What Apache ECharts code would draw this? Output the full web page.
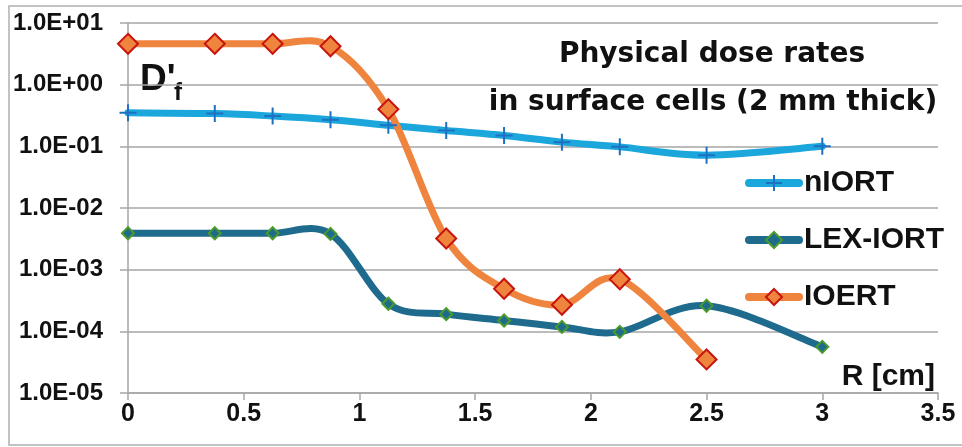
<!DOCTYPE html>
<html>
<head>
<meta charset="utf-8">
<script src="https://cdn.jsdelivr.net/npm/echarts@6/dist/echarts.min.js"></script>
<style>html,body{margin:0;padding:0;background:#fff;}#c{width:962px;height:447px;}</style>
</head>
<body>
<div id="c"></div>
<script>
const radius = [0, 0.375, 0.625, 0.875, 1.125, 1.375, 1.625, 1.875, 2.125, 2.5, 3];
const nIORT = [0.35, 0.34, 0.31, 0.27, 0.22, 0.18, 0.15, 0.117, 0.098, 0.072, 0.10];
const lexIORT = [3.9e-3, 3.9e-3, 3.9e-3, 3.8e-3, 2.8e-4, 1.9e-4, 1.5e-4, 1.18e-4, 9.8e-5, 2.6e-4, 5.6e-5];
const ioert = [4.6, 4.6, 4.6, 4.2, 0.40, 3.2e-3, 4.9e-4, 2.7e-4, 7.0e-4, 3.5e-5];
const yTickLabels = {'-5': '1.0E-05', '-4': '1.0E-04', '-3': '1.0E-03', '-2': '1.0E-02', '-1': '1.0E-01', '0': '1.0E+00', '1': '1.0E+01'};
const xTickLabels = ['0', '0.5', '1', '1.5', '2', '2.5', '3', '3.5'];
const seriesNames = ['nIORT', 'LEX-IORT', 'IOERT'];
const titleLines = ['Physical dose rates', 'in surface cells (2 mm thick)'];

const pairs = (xs, ys) => ys.map((v, i) => [xs[i], v]);
const FONT = '"Liberation Sans", Arial, sans-serif';
const TFONT = '"DejaVu Sans", sans-serif';
const lineColors = ['#1ba6dc', '#1e6b8e', '#ef843e'];
const seriesData = [pairs(radius, nIORT), pairs(radius, lexIORT), pairs(radius, ioert)];

// Spreadsheet-style smoothed curve (Catmull-Rom Bezier) through the points, in pixel space via the axes
function curveSeries(idx) {
  return {
    name: seriesNames[idx] + ' curve', type: 'custom', z: 2, silent: true,
    coordinateSystem: 'cartesian2d', data: [seriesData[idx][0]],
    renderItem: function (params, api) {
      const pts = seriesData[idx].map(p => api.coord(p));
      const n = pts.length;
      let d = 'M' + pts[0][0] + ',' + pts[0][1];
      for (let i = 0; i < n - 1; i++) {
        const p0 = pts[Math.max(i - 1, 0)], p1 = pts[i], p2 = pts[i + 1], p3 = pts[Math.min(i + 2, n - 1)];
        const c1x = p1[0] + (p2[0] - p0[0]) / 6, c1y = p1[1] + (p2[1] - p0[1]) / 6;
        const c2x = p2[0] - (p3[0] - p1[0]) / 6, c2y = p2[1] - (p3[1] - p1[1]) / 6;
        d += ' C' + c1x + ',' + c1y + ' ' + c2x + ',' + c2y + ' ' + p2[0] + ',' + p2[1];
      }
      return {type: 'path', shape: {pathData: d},
              style: {fill: 'none', stroke: lineColors[idx], lineWidth: 7, lineCap: 'round', lineJoin: 'round'}};
    }
  };
}

const markerDefs = [
  {symbol: 'path://M0,-10L0,10M-10,0L10,0', size: 17, itemStyle: {color: 'none', borderColor: '#1e70c2', borderWidth: 2}},
  {symbol: 'diamond', size: 12, itemStyle: {color: '#1e6b8e', borderColor: '#4a9a2c', borderWidth: 2}},
  {symbol: 'diamond', size: 20, itemStyle: {color: '#ef843e', borderColor: '#c8150f', borderWidth: 2}}
];

const series = [];
for (let i = 0; i < 3; i++) {
  series.push(curveSeries(i));
  series.push({
    name: seriesNames[i], type: 'line', z: 3, data: seriesData[i], color: lineColors[i],
    lineStyle: {color: lineColors[i], width: 7, opacity: 0},
    symbol: markerDefs[i].symbol, symbolSize: markerDefs[i].size, itemStyle: markerDefs[i].itemStyle
  });
}

const chart = echarts.init(document.getElementById('c'), null, {renderer: 'canvas'});
chart.setOption({
  animation: false,
  backgroundColor: '#fff',
  grid: {left: 128, right: 24, top: 23, bottom: 54, containLabel: false},
  xAxis: {
    type: 'value', min: 0, max: 3.5, interval: 0.5,
    axisLine: {show: true, lineStyle: {color: '#a6a6a6', width: 1.5}},
    axisTick: {show: true, length: 7, lineStyle: {color: '#a6a6a6', width: 1.5}},
    splitLine: {show: false},
    axisLabel: {
      margin: 9, color: '#111', fontWeight: 'bold', fontSize: 25, fontFamily: FONT,
      formatter: v => xTickLabels[Math.round(v / 0.5)]
    }
  },
  yAxis: {
    type: 'log', logBase: 10, min: 1e-5, max: 10,
    axisLine: {show: true, lineStyle: {color: '#a6a6a6', width: 1.5}},
    axisTick: {show: true, length: 8, lineStyle: {color: '#a6a6a6', width: 1.5}},
    splitLine: {show: true, lineStyle: {color: '#a6a6a6', width: 1.5}},
    axisLabel: {
      margin: 25, color: '#111', fontWeight: 'bold', fontSize: 24, fontFamily: FONT,
      formatter: v => yTickLabels[String(Math.round(Math.log10(v)))]
    }
  },
  legend: {
    orient: 'vertical', left: 745, top: 168, padding: 0,
    itemWidth: 50, itemHeight: 20, itemGap: 27,
    textStyle: {color: '#111', fontWeight: 'bold', fontSize: 30, fontFamily: FONT, lineHeight: 30},
    data: seriesNames.map((n, i) => ({name: n, lineStyle: {width: 8, opacity: 1, color: lineColors[i], cap: 'round'}}))
  },
  graphic: [
    {type: 'rect', silent: true, shape: {x: 9, y: 6, width: 960, height: 439},
     style: {fill: 'none', stroke: '#b0b0b0', lineWidth: 1.5}},
    {type: 'text', silent: true, x: 712, y: 55,
     style: {text: titleLines[0], fill: '#111', font: 'bold 28px ' + TFONT, align: 'center', verticalAlign: 'middle'}},
    {type: 'text', silent: true, x: 713, y: 103,
     style: {text: titleLines[1], fill: '#111', font: 'bold 28px ' + TFONT, align: 'center', verticalAlign: 'middle'}},
    {type: 'text', silent: true, x: 140, y: 80,
     style: {text: "D'", fill: '#111', font: 'bold 37px ' + FONT, align: 'left', verticalAlign: 'middle'}},
    {type: 'text', silent: true, x: 174, y: 93,
     style: {text: 'f', fill: '#111', font: 'bold 24px ' + FONT, align: 'left', verticalAlign: 'middle'}},
    {type: 'text', silent: true, x: 935, y: 377,
     style: {text: 'R [cm]', fill: '#111', font: 'bold 30px ' + FONT, align: 'right', verticalAlign: 'middle'}}
  ],
  series: series
});
</script>
</body>
</html>
